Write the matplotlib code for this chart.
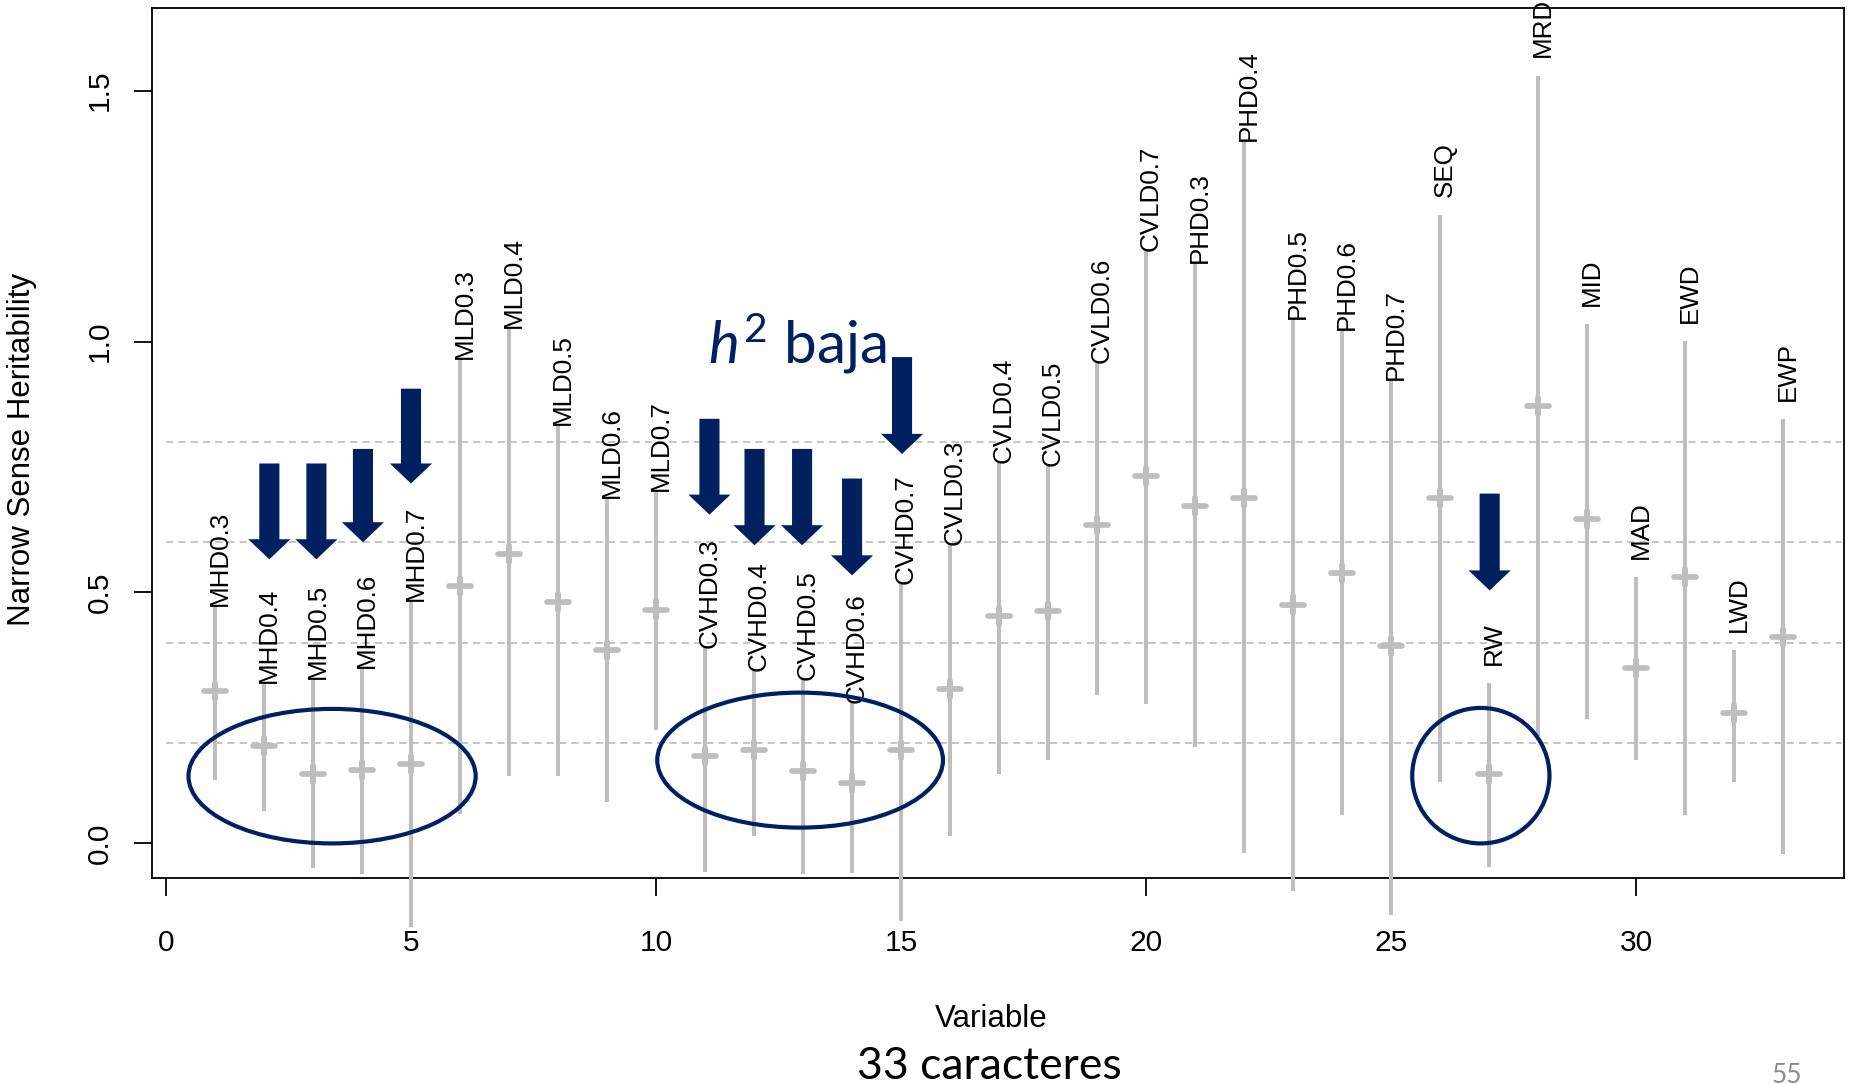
import matplotlib
matplotlib.use("Agg")
import matplotlib.pyplot as plt
from matplotlib.patches import Ellipse

plt.rcParams['font.family'] = ['Liberation Sans', 'DejaVu Sans']
plt.rcParams['mathtext.fontset'] = 'custom'
plt.rcParams['mathtext.it'] = 'Lato:italic'
plt.rcParams['mathtext.rm'] = 'Lato'

# traits, in plotting order (x = 1..33)
names = ["MHD0.3", "MHD0.4", "MHD0.5", "MHD0.6", "MHD0.7",
         "MLD0.3", "MLD0.4", "MLD0.5", "MLD0.6", "MLD0.7",
         "CVHD0.3", "CVHD0.4", "CVHD0.5", "CVHD0.6", "CVHD0.7",
         "CVLD0.3", "CVLD0.4", "CVLD0.5", "CVLD0.6", "CVLD0.7",
         "PHD0.3", "PHD0.4", "PHD0.5", "PHD0.6", "PHD0.7",
         "SEQ", "RW", "MRD", "MID", "MAD", "EWD", "LWD", "EWP"]

# narrow sense heritability estimate and interval
h2 = [0.303, 0.194, 0.139, 0.147, 0.159, 0.513, 0.577, 0.481, 0.385, 0.466,
      0.175, 0.187, 0.144, 0.120, 0.187, 0.307, 0.454, 0.463, 0.634, 0.732,
      0.673, 0.689, 0.476, 0.539, 0.393, 0.689, 0.139, 0.872, 0.646, 0.349,
      0.530, 0.259, 0.411]
lower = [0.126, 0.065, -0.049, -0.061, -0.166, 0.059, 0.134, 0.134, 0.082, 0.225,
         -0.057, 0.015, -0.061, -0.058, -0.155, 0.015, 0.138, 0.166, 0.296, 0.277,
         0.192, -0.019, -0.094, 0.057, -0.143, 0.123, -0.046, 0.214, 0.248, 0.166,
         0.057, 0.123, -0.022]
upper = [0.474, 0.320, 0.328, 0.349, 0.482, 0.966, 1.026, 0.834, 0.688, 0.703,
         0.389, 0.343, 0.326, 0.280, 0.516, 0.594, 0.757, 0.751, 0.957, 1.180,
         1.156, 1.400, 1.045, 1.023, 0.923, 1.252, 0.319, 1.530, 1.035, 0.530,
         1.001, 0.386, 0.845]

ref_lines = [0.2, 0.4, 0.6, 0.8]

# "low h2" annotations: arrows (x, top, tip) and ellipses (cx, cy, w, h)
arrow_x = [2.11, 3.07, 4.02, 5.0, 11.09, 12.01, 12.98, 14.0, 15.02, 27.01]
arrow_top = [0.757, 0.757, 0.786, 0.906, 0.846, 0.786, 0.786, 0.727, 0.969, 0.697]
arrow_tip = [0.566, 0.566, 0.600, 0.717, 0.655, 0.594, 0.594, 0.534, 0.776, 0.504]
ellipses = [(3.39, 0.134, 5.86, 0.268),
            (12.94, 0.166, 5.83, 0.269),
            (26.83, 0.135, 2.80, 0.270)]

grey = "#BEBEBE"
navy = "#002060"

fig = plt.figure(figsize=(18.57, 10.85), dpi=100)
ax = fig.add_axes([0.0816, 0.1912, 0.9114, 0.8012])
ax.set_xlim(-0.294, 34.24)
ax.set_ylim(-0.068, 1.664)

x = list(range(1, len(names) + 1))

ax.hlines(ref_lines, 0, 34.2, colors="#C0C0C0", lw=1.3,
          linestyles=(0, (4.0, 2.8)), zorder=1)

ax.vlines(x, lower, upper, colors=grey, lw=2.9, zorder=3, clip_on=False)
tick_h = ax.hlines(h2, [v - 0.22 for v in x], [v + 0.22 for v in x],
                   colors=grey, lw=4.1, zorder=3)
tick_h.set_capstyle("round")
tick_v = ax.vlines(x, [v - 0.016 for v in h2], [v + 0.016 for v in h2],
                   colors=grey, lw=4.3, zorder=3)
tick_v.set_capstyle("round")

for i, (xi, up, nm) in enumerate(zip(x, upper, names)):
    gap = 0.036 if i >= 25 else 0.0
    ax.text(xi + 0.1, up + gap, nm, rotation=90, ha="center", va="bottom",
            fontsize=18.7, clip_on=False, zorder=4)

for cx, cy, w, h in ellipses:
    ax.add_patch(Ellipse((cx, cy), w, h, fill=False, edgecolor=navy,
                         lw=3.0, zorder=5))

for ax_, top, tip in zip(arrow_x, arrow_top, arrow_tip):
    ax.arrow(ax_, top, 0, tip - top, width=0.41, head_width=0.86,
             head_length=0.04, length_includes_head=True,
             color=navy, lw=0, zorder=6)

ax.text(11.06, 0.957, r"$h^2$ baja", fontsize=42, color=navy,
        family="Lato", ha="left", va="baseline", zorder=6)

ax.set_xticks([0, 5, 10, 15, 20, 25, 30])
ax.set_yticks([0, 0.5, 1.0, 1.5])
ax.set_yticklabels(["0.0", "0.5", "1.0", "1.5"], rotation=90, va="center")
ax.tick_params(axis="both", length=13, width=1.3, labelsize=21.5, color="black")
ax.tick_params(axis="x", pad=24)
ax.tick_params(axis="y", pad=14)
for s in ax.spines.values():
    s.set_linewidth(1.3)

fig.text(0.0118, 0.586, "Narrow Sense Heritability", rotation=90,
         ha="center", va="center", fontsize=22.5)
fig.text(0.5337, 0.0605, "Variable", ha="center", va="center", fontsize=22.5)
fig.text(0.5326, 0.0055, "33 caracteres", ha="center", va="baseline",
         fontsize=32, family="Lato")
fig.text(0.9621, 0.0016, "55", ha="center", va="baseline",
         fontsize=19, family="Lato", color="#8C8C8C")

fig.savefig("out.png", dpi=100)
